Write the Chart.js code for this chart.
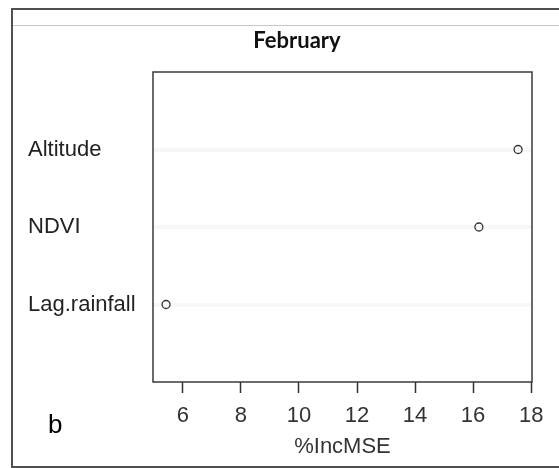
<!DOCTYPE html>
<html>
<head>
<meta charset="utf-8">
<script src="https://cdn.jsdelivr.net/npm/chart.js@4"></script>
<style>
  html, body { margin: 0; padding: 0; background: #fff; overflow: hidden; }
  #wrap { position: relative; width: 559px; height: 468px; }
  canvas { position: absolute; left: 0; top: 0; }
  #frame { position: absolute; left: 11px; top: 8px; width: 600px; height: 456px;
           border: 2px solid #505050; border-right: none; }
  #rule { position: absolute; left: 13px; top: 25px; width: 546px; height: 0;
          border-top: 1px solid #c8c8c8; }
  #title { position: absolute; left: 197px; top: 27px; width: 200px; text-align: center;
           font: bold 22px Lato; line-height: 26px; color: #111; }
  #panel { position: absolute; left: 48px; top: 411px; font: 26px "Liberation Sans";
           line-height: 26px; color: #000; }
</style>
</head>
<body>
<div id="wrap">
  <canvas id="chart" width="559" height="468"></canvas>
  <div id="frame"></div>
  <div id="rule"></div>
  <div id="title">February</div>
  <div id="panel">b</div>
</div>
<script>
// variable importance, bottom to top as in a dotchart
const categories = ["Lag.rainfall", "NDVI", "Altitude"];
const incMSE = [5.42, 16.2, 17.55];
const xTicks = [6, 8, 10, 12, 14, 16, 18];

const font = { family: "Liberation Sans", size: 22 };

// frame around the plotting region
const boxPlugin = {
  id: "box",
  afterDraw(chart) {
    const { ctx, chartArea: a } = chart;
    ctx.save();
    ctx.strokeStyle = "#3a3a3a";
    ctx.lineWidth = 1.5;
    ctx.strokeRect(a.left, a.top, a.right - a.left, a.bottom - a.top);
    ctx.restore();
  }
};

new Chart(document.getElementById("chart"), {
  type: "scatter",
  data: {
    datasets: [{
      data: categories.map((c, i) => ({ x: incMSE[i], y: i + 1 })),
      pointRadius: 4,
      pointHoverRadius: 4,
      pointBorderWidth: 1.3,
      pointBorderColor: "#333",
      pointBackgroundColor: "rgba(0,0,0,0)"
    }]
  },
  options: {
    responsive: false,
    animation: false,
    events: [],
    layout: { padding: { left: 28, top: 72, right: 27, bottom: 4 } },
    plugins: { legend: { display: false }, tooltip: { enabled: false } },
    scales: {
      x: {
        type: "linear",
        min: 4.97,
        max: 18.03,
        afterBuildTicks: (s) => { s.ticks = xTicks.map(v => ({ value: v })); },
        afterFit: (s) => { s.height = 82; },
        grid: { drawOnChartArea: false, tickLength: 11, tickColor: "#333", tickWidth: 1.5 },
        border: { display: false },
        ticks: { padding: 10, color: "#333", font: font, maxRotation: 0 },
        title: { display: true, text: "%IncMSE", color: "#333", font: font, padding: { top: 0, bottom: 4 } }
      },
      y: {
        type: "linear",
        min: 0,
        max: 4,
        afterBuildTicks: (s) => { s.ticks = categories.map((c, i) => ({ value: i + 1 })); },
        afterFit: (s) => { s.width = 125; },
        grid: { drawTicks: false, color: "rgba(0,0,0,0.03)", lineWidth: 4 },
        border: { display: false },
        ticks: {
          crossAlign: "far",
          color: "#222",
          font: font,
          callback: (v) => categories[v - 1]
        }
      }
    }
  },
  plugins: [boxPlugin]
});
</script>
</body>
</html>
